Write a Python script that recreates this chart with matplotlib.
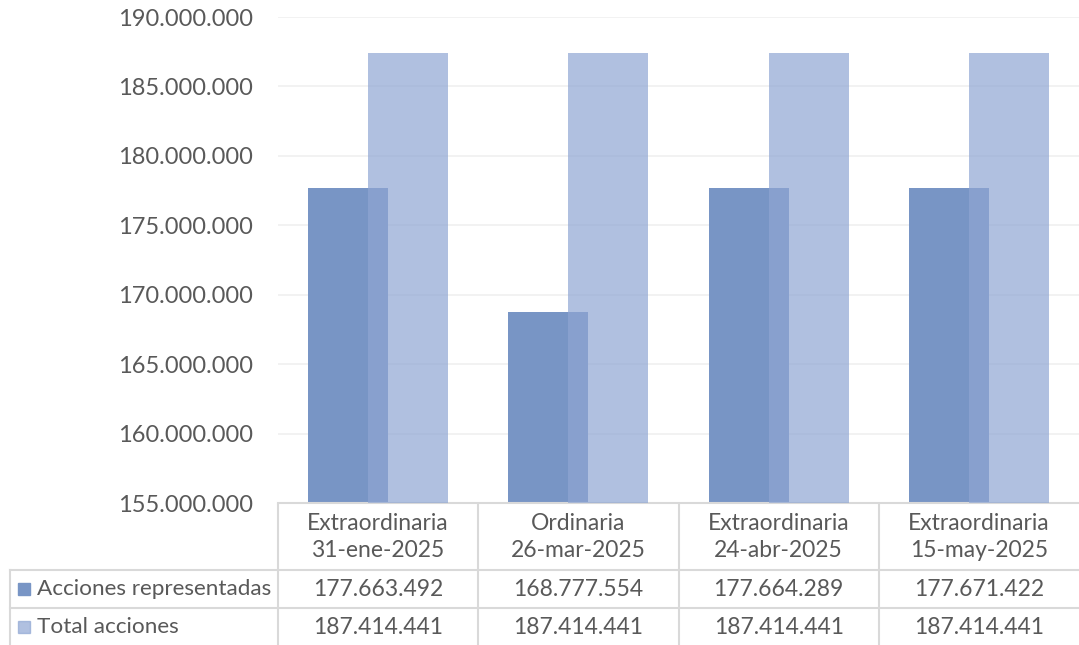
import matplotlib.pyplot as plt
import numpy as np
from matplotlib.patches import Rectangle

# Data
categories = ["Extraordinaria\n31-ene-2025", "Ordinaria\n26-mar-2025",
              "Extraordinaria\n24-abr-2025", "Extraordinaria\n15-may-2025"]
acciones_representadas = [177663492, 168777554, 177664289, 177671422]
total_acciones = [187414441, 187414441, 187414441, 187414441]
series_names = ["Acciones representadas", "Total acciones"]
y_ticks = [155000000, 160000000, 165000000, 170000000, 175000000,
           180000000, 185000000, 190000000]

plt.rcParams["font.family"] = ["Lato", "DejaVu Sans"]
text_color = "#595959"
line_color = "#D9D9D9"
dark_color = "#7895C5"
light_color = "#8FA6D3"
fs = 16.5


def fmt(v):
    return f"{v:,.0f}".replace(",", ".")


W, H = 1079, 645
fig = plt.figure(figsize=(W / 100, H / 100), dpi=100)

# Main chart area (pixel layout from the reference)
left_px, bottom_px, top_px = 278, 503, 17
ax = fig.add_axes([left_px / W, (H - bottom_px) / H, 1 - left_px / W, (bottom_px - top_px) / H])

x = np.arange(len(categories))
ax.bar(x - 0.15, acciones_representadas, width=0.4, color=dark_color, zorder=2)
ax.bar(x + 0.15, total_acciones, width=0.4, color=light_color, alpha=0.7, zorder=3)

ax.set_xlim(-0.5, len(categories) - 0.5)
ax.set_ylim(y_ticks[0], y_ticks[-1])
ax.set_yticks(y_ticks)
ax.set_yticklabels([fmt(v) for v in y_ticks], fontsize=17, color=text_color)
ax.set_xticks([])
ax.tick_params(axis="y", length=0, pad=18)
ax.grid(axis="y", color="#F0F0F0", linewidth=1.2, zorder=0)
for s in ["top", "right", "left"]:
    ax.spines[s].set_visible(False)
ax.spines["bottom"].set_color(line_color)
ax.spines["bottom"].set_linewidth(1.5)
ax.set_axisbelow(True)

# Data table below the chart
cw = (W - left_px) / len(categories)
tx0 = -0.5 - left_px / cw
tab = fig.add_axes([0, 0, 1, (H - bottom_px) / H])
tab.set_xlim(tx0, len(categories) - 0.5)
tab.set_ylim(H, bottom_px)
tab.axis("off")


def px(p):
    return tx0 + p / cw


row_lines = [570, 608]
for yy in row_lines:
    tab.plot([px(10), len(categories) - 0.5], [yy, yy], color=line_color, lw=1.5)
for i in range(len(categories)):
    tab.plot([i - 0.5, i - 0.5], [bottom_px, H], color=line_color, lw=1.5)
tab.plot([px(10), px(10)], [570, H], color=line_color, lw=1.5)

for i, cat in enumerate(categories):
    tab.text(i, 537, cat, ha="center", va="center", fontsize=fs,
             color=text_color, linespacing=1.4)

row_y = [589, 627]
rows = [acciones_representadas, total_acciones]
for r, (name, vals, yy) in enumerate(zip(series_names, rows, row_y)):
    if r == 0:
        tab.add_patch(Rectangle((px(18), yy - 6), 12 / cw, 12, color=dark_color))
    else:
        tab.add_patch(Rectangle((px(18), yy - 6), 12 / cw, 12, color=light_color, alpha=0.7))
    tab.text(px(37), yy, name, ha="left", va="center", fontsize=16.2, color=text_color)
    for i, v in enumerate(vals):
        tab.text(i, yy, fmt(v), ha="center", va="center", fontsize=fs, color=text_color)

plt.savefig("out.png", dpi=100)
plt.close()
